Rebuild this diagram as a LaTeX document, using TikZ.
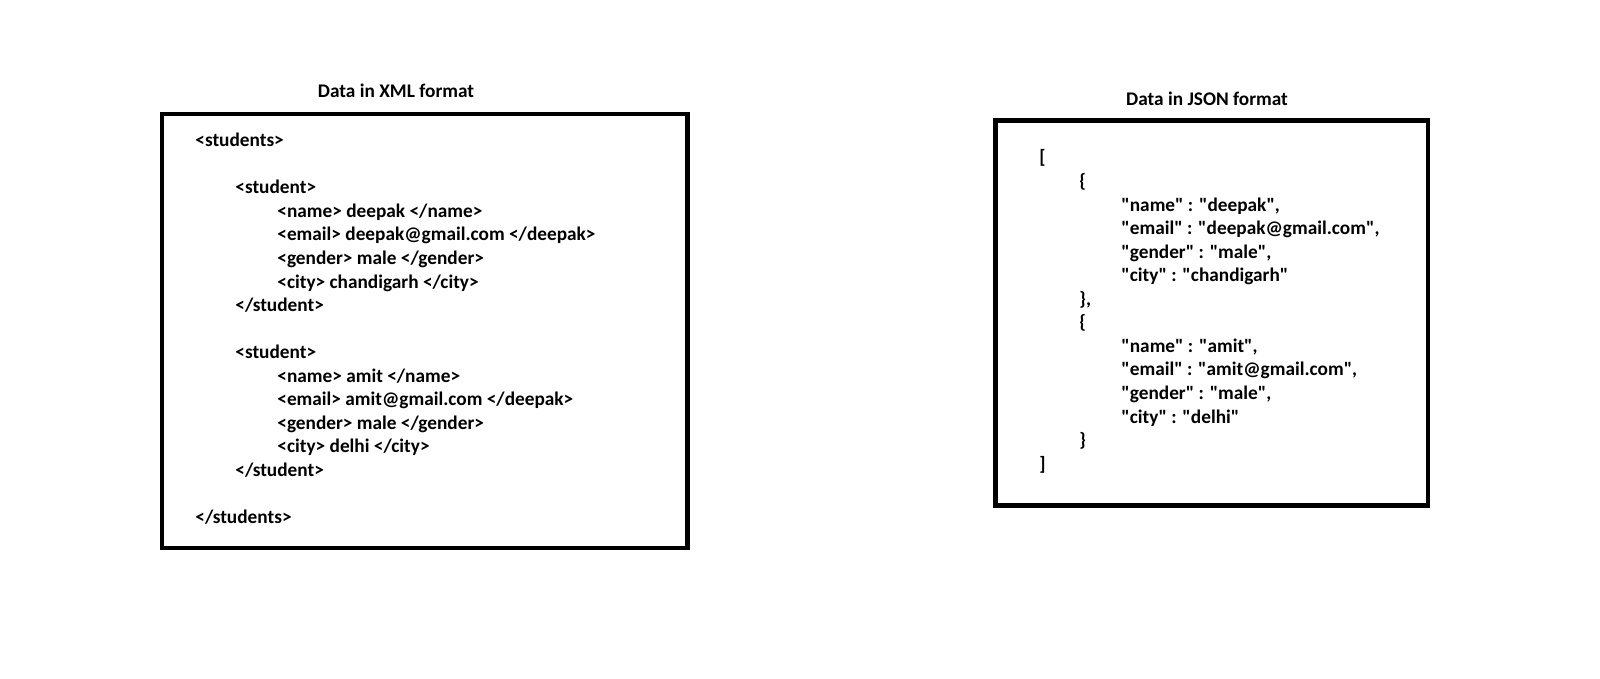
\documentclass[tikz,border=0pt]{standalone}
\usepackage{fontspec}
\setmainfont{Carlito}[Ligatures=TeXOff]
\tikzstyle{every node}=[anchor=base west, inner sep=0pt, font=\bfseries\fontsize{9.65}{11.6}\selectfont]
\tikzstyle{title}=[anchor=base]

\begin{document}
\begin{tikzpicture}[x=0.5pt, y=-0.5pt, line width=2.4pt]
\fill[white] (0,0) rectangle (1600,679);
\useasboundingbox (0,0) rectangle (1600,679);
% Boxes
    \draw (162,114) rectangle (687.5,548);
    \draw (995.5,120.5) rectangle (1428,505.5);
% Titles
    \node[title] (xmltitle) at (396,98) {Data in XML format};
    \node[title] (jsontitle) at (1207,106) {Data in JSON format};
% XML data
    \node (students) at (193,146.7) {<students>};
    \node (studentA) at (233,193.8) {<student>};
    \node (nameA) at (275,217.3) {<name> deepak </name>};
    \node (emailA) at (275,240.9) {<email> deepak@gmail.com </deepak>};
    \node (genderA) at (275,264.4) {<gender> male </gender>};
    \node (cityA) at (275,288.0) {<city> chandigarh </city>};
    \node (endstudentA) at (233,311.5) {</student>};
    \node (studentB) at (233,358.6) {<student>};
    \node (nameB) at (275,382.1) {<name> amit </name>};
    \node (emailB) at (275,405.6) {<email> amit@gmail.com </deepak>};
    \node (genderB) at (275,429.2) {<gender> male </gender>};
    \node (cityB) at (275,452.7) {<city> delhi </city>};
    \node (endstudentB) at (233,476.3) {</student>};
    \node (endstudents) at (193,523.3) {</students>};
% JSON data
    \node (open) at (1037,164) {[};
    \node (objA) at (1077,187.5) {\{};
    \node (jnameA) at (1119,211.1) {"name" : "deepak",};
    \node (jemailA) at (1119,234.6) {"email" : "deepak@gmail.com",};
    \node (jgenderA) at (1119,258.2) {"gender" : "male",};
    \node (jcityA) at (1119,281.7) {"city" : "chandigarh"};
    \node (endobjA) at (1077,305.2) {\},};
    \node (objB) at (1077,328.8) {\{};
    \node (jnameB) at (1119,352.3) {"name" : "amit",};
    \node (jemailB) at (1119,375.9) {"email" : "amit@gmail.com",};
    \node (jgenderB) at (1119,399.4) {"gender" : "male",};
    \node (jcityB) at (1119,423.0) {"city" : "delhi"};
    \node (endobjB) at (1077,446.5) {\}};
    \node (close) at (1037,470.0) {]};
\end{tikzpicture}
\end{document}
